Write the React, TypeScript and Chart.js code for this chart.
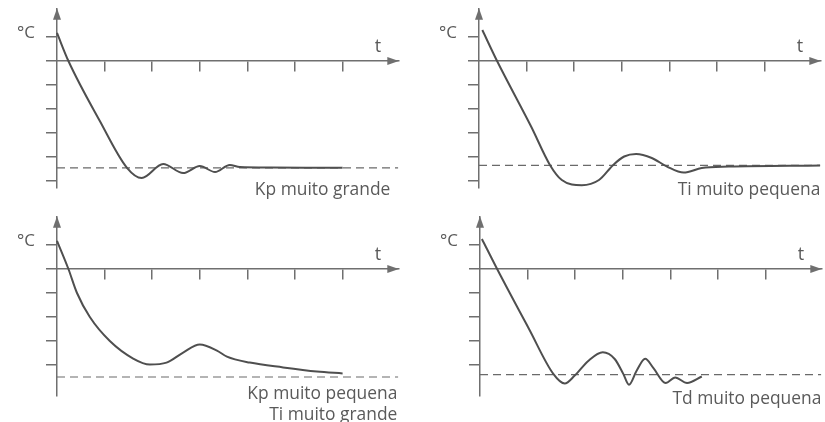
import React, { useEffect, useRef } from "react";
import { Chart, registerables } from "chart.js";
Chart.register(...registerables);

// ---- data ----
const xTickValues = [1, 2, 3, 4, 5, 6];
const yTicksFull = [1, -1, -2, -3, -4, -5];
const yTicksShort = [1, -1, -2, -3, -4];

const kpGrandeX = [0, 0.24, 0.9, 1.47, 1.78, 2.23, 2.65, 3.0, 3.32, 3.63, 3.84, 4.5, 6.0];
const kpGrandeY = [1.17, 0, -2.5, -4.45, -4.875, -4.29, -4.67, -4.375, -4.625, -4.33, -4.42, -4.44, -4.45];
const kpGrandeRef = -4.45;

const tiPequenaX = [0.07, 0.38, 1.1, 1.49, 1.74, 2.16, 2.52, 2.82, 3.05, 3.3, 3.63, 3.95, 4.3, 4.68, 5.25, 7.17];
const tiPequenaY = [1.29, 0, -2.75, -4.33, -4.96, -5.18, -4.96, -4.33, -3.98, -3.875, -4.04, -4.4, -4.65, -4.46, -4.4, -4.35];
const tiPequenaRef = -4.35;

const kpPequenaX = [0, 0.24, 0.42, 0.69, 1.11, 1.6, 1.95, 2.3, 2.65, 3.0, 3.36, 3.57, 4.05, 4.75, 5.46, 6.0];
const kpPequenaY = [1.17, 0, -1, -2, -3, -3.73, -3.98, -3.9, -3.48, -3.15, -3.4, -3.65, -3.9, -4.1, -4.27, -4.35];
const kpPequenaRef = -4.5;

const tdPequenaX = [0.04, 0.36, 1.03, 1.54, 1.78, 1.99, 2.28, 2.58, 2.83, 3.01, 3.13, 3.29, 3.47, 3.64, 3.9, 4.1, 4.35, 4.66];
const tdPequenaY = [1.25, 0, -2.5, -4.37, -4.77, -4.44, -3.82, -3.47, -3.75, -4.37, -4.82, -4.24, -3.74, -4.12, -4.75, -4.52, -4.75, -4.48];
const tdPequenaRef = -4.4;

const yUnitLabel = "°C";
const xUnitLabel = "t";

// ---- layout / style ----
const X_MIN = -0.21;
const X_MAX = 7.17;
const Y_MIN = -5.27;
const Y_MAX = 2.18;
const UX = 47.6; // px per x unit
const UY = 24; // px per y unit

const AXIS_COLOR = "#6f6f6f";
const CURVE_COLOR = "#4f4f4f";
const DASH_COLOR = "#6a6a6a";
const TEXT_COLOR = "#5a5a5a";
const FONT = "'Open Sans', 'Noto Sans', sans-serif";

type Panel = {
  ox: number; oy: number; w: number; h: number;
  x0: number; y0: number;
  xs: number[]; ys: number[]; ref: number; yTicks: number[];
  caption: string[]; captionBase: number; captionRight: number;
};

const panels: Panel[] = [
  { ox: 0, oy: 0, w: 412, h: 211, x0: 57, y0: 61, xs: kpGrandeX, ys: kpGrandeY, ref: kpGrandeRef, yTicks: yTicksFull, caption: ["Kp muito grande"], captionBase: 134, captionRight: -8 },
  { ox: 412, oy: 0, w: 413, h: 211, x0: 479, y0: 61, xs: tiPequenaX, ys: tiPequenaY, ref: tiPequenaRef, yTicks: yTicksFull, caption: ["Ti muito pequena"], captionBase: 134, captionRight: 0 },
  { ox: 0, oy: 211, w: 412, h: 211, x0: 57, y0: 269, xs: kpPequenaX, ys: kpPequenaY, ref: kpPequenaRef, yTicks: yTicksShort, caption: ["Kp muito pequena", "Ti muito grande"], captionBase: 130, captionRight: -1 },
  { ox: 412, oy: 211, w: 413, h: 211, x0: 480, y0: 269, xs: tdPequenaX, ys: tdPequenaY, ref: tdPequenaRef, yTicks: yTicksShort, caption: ["Td muito pequena"], captionBase: 135, captionRight: 0 },
];

const decorPlugin = {
  id: "decor",
  afterDraw(chart: any) {
    const p: Panel = chart.options.plugins.decor.panel;
    const { ctx } = chart;
    const xs = chart.scales.x;
    const ys = chart.scales.y;
    const ox = xs.getPixelForValue(0);
    const oy = ys.getPixelForValue(0);
    ctx.save();
    ctx.fillStyle = AXIS_COLOR;
    // x arrow
    const xt = xs.right;
    ctx.beginPath();
    ctx.moveTo(xt + 0.5, oy);
    ctx.lineTo(xt - 11, oy - 4);
    ctx.lineTo(xt - 11, oy + 4);
    ctx.closePath();
    ctx.fill();
    // y arrow
    const yt = ys.top;
    ctx.beginPath();
    ctx.moveTo(ox, yt - 0.5);
    ctx.lineTo(ox - 4, yt + 11);
    ctx.lineTo(ox + 4, yt + 11);
    ctx.closePath();
    ctx.fill();

    ctx.fillStyle = TEXT_COLOR;
    ctx.textBaseline = "alphabetic";
    ctx.font = `17px ${FONT}`;
    ctx.textAlign = "right";
    ctx.fillText(yUnitLabel, ox - 22, oy - 23);
    ctx.font = `18px ${FONT}`;
    ctx.textAlign = "center";
    ctx.fillText(xUnitLabel, ox + 321, oy - 9);
    ctx.font = `17.4px ${FONT}`;
    ctx.textAlign = "right";
    p.caption.forEach((line, i) => {
      ctx.fillText(line, xt + p.captionRight, oy + p.captionBase + i * 21);
    });
    ctx.restore();
  },
};

function PanelChart({ p }: { p: Panel }) {
  const ref = useRef<HTMLCanvasElement>(null);
  useEffect(() => {
    const canvas = ref.current!;
    const areaLeft = p.x0 + X_MIN * UX;
    const areaRight = p.x0 + X_MAX * UX;
    const areaTop = p.y0 - Y_MAX * UY;
    const areaBottom = p.y0 - Y_MIN * UY;
    const chart = new Chart(canvas, {
      type: "line",
      data: {
        datasets: [
          {
            data: p.xs.map((x, i) => ({ x, y: p.ys[i] })),
            borderColor: CURVE_COLOR,
            borderWidth: 2,
            pointRadius: 0,
            cubicInterpolationMode: "monotone",
            fill: false,
          },
          {
            data: [{ x: 0, y: p.ref }, { x: X_MAX, y: p.ref }],
            borderColor: DASH_COLOR,
            borderWidth: 1.2,
            borderDash: [8, 5],
            pointRadius: 0,
            fill: false,
          },
        ],
      },
      options: {
        animation: false,
        responsive: false,
        events: [],
        layout: {
          padding: {
            left: areaLeft - p.ox,
            right: p.ox + p.w - areaRight,
            top: areaTop - p.oy,
            bottom: p.oy + p.h - areaBottom,
          },
        },
        plugins: {
          legend: { display: false },
          tooltip: { enabled: false },
          decor: { panel: p },
        } as any,
        scales: {
          x: {
            type: "linear",
            min: X_MIN,
            max: X_MAX,
            position: { y: 0 } as any,
            border: { display: true, color: AXIS_COLOR, width: 1.5 },
            grid: { drawOnChartArea: false, drawTicks: true, tickLength: 10, color: AXIS_COLOR, lineWidth: 1.5 },
            ticks: { display: false },
            afterBuildTicks: (s: any) => {
              s.ticks = xTickValues.map((v) => ({ value: v }));
            },
          },
          y: {
            type: "linear",
            min: Y_MIN,
            max: Y_MAX,
            position: { x: 0 } as any,
            border: { display: true, color: AXIS_COLOR, width: 1.5 },
            grid: { drawOnChartArea: false, drawTicks: true, tickLength: 10, color: AXIS_COLOR, lineWidth: 1.5 },
            ticks: { display: false },
            afterBuildTicks: (s: any) => {
              s.ticks = p.yTicks.map((v) => ({ value: v }));
            },
          },
        },
      },
      plugins: [decorPlugin],
    } as any);
    return () => chart.destroy();
  }, [p]);
  return (
    <canvas
      ref={ref}
      width={p.w}
      height={p.h}
      style={{ position: "absolute", left: p.ox, top: p.oy, width: p.w, height: p.h }}
    />
  );
}

export default function App() {
  return (
    <div style={{ position: "fixed", left: 0, top: 0, width: 825, height: 422, background: "#fff", overflow: "hidden" }}>
      {panels.map((p, i) => (
        <PanelChart key={i} p={p} />
      ))}
    </div>
  );
}
